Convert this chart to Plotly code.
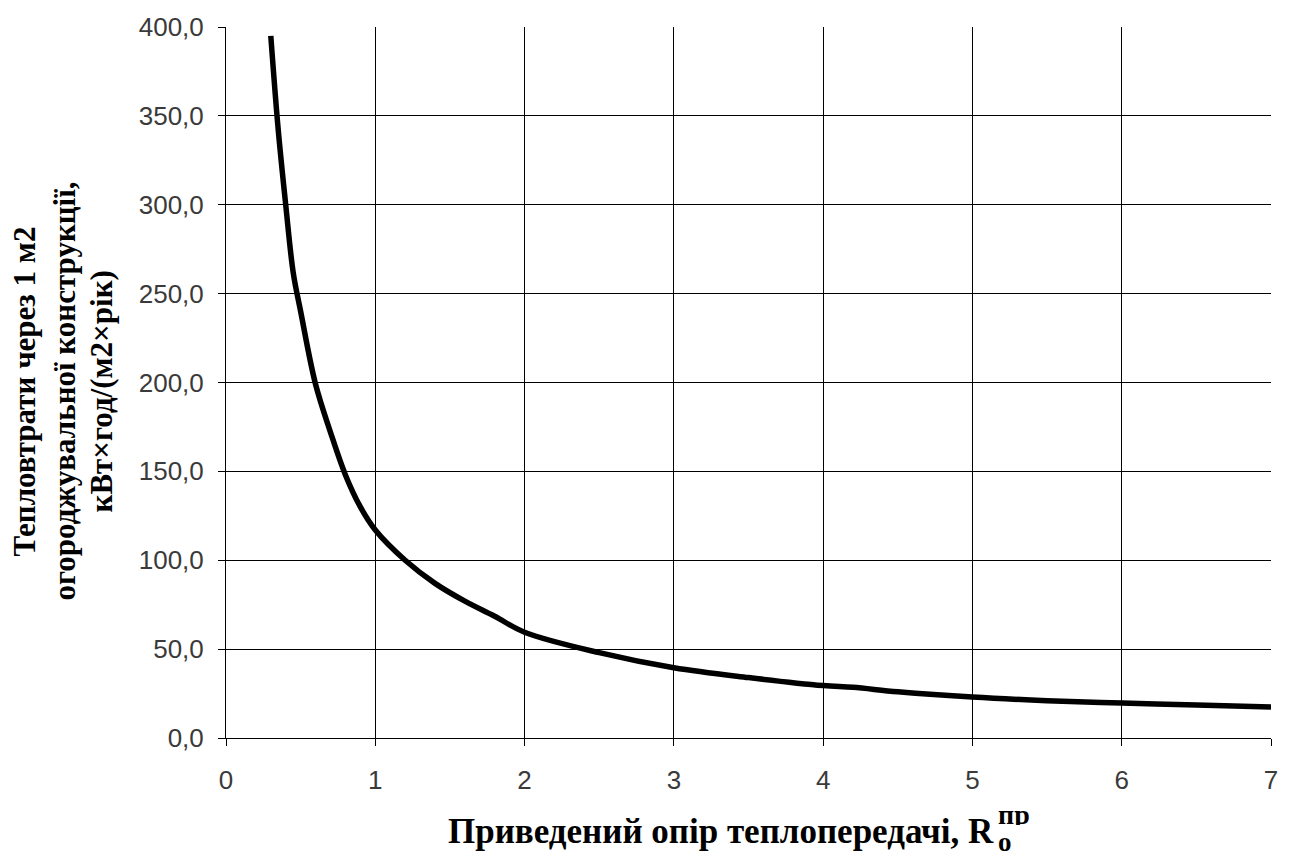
import plotly.graph_objects as go

# Reduced heat-transfer resistance R (m2·K/W)
resistance = [0.3, 0.35, 0.4, 0.45, 0.5, 0.6, 0.7, 0.8, 0.9, 1.0, 1.2, 1.4, 1.6, 1.8,
              2.0, 2.5, 3.0, 3.5, 4.0, 4.2, 4.5, 5.0, 5.5, 6.0, 6.5, 7.0]
# Annual heat loss through 1 m2 of envelope, kWh/(m2·year)
heat_loss = [395, 342, 300, 262, 240, 199, 172, 148, 130, 117, 100, 87, 77, 68.5,
             59.5, 48, 39.5, 34, 29.5, 28.5, 26, 23, 21, 19.7, 18.5, 17.4]

x_ticks = [0, 1, 2, 3, 4, 5, 6, 7]
y_ticks = [0, 50, 100, 150, 200, 250, 300, 350, 400]

y_title_lines = ["Тепловтрати через 1 м2",
                 "огороджувальної конструкції,",
                 "кВт×год/(м2×рік)"]
x_title = "Приведений опір теплопередачі, R"

W, H = 1292, 861
ML, MR, MT, MB = 226, 21, 24, 123
PW, PH = W - ML - MR, H - MT - MB

def px(xp):
    return (xp - ML) / PW

def py(yp):
    return (H - MB - yp) / PH

fig = go.Figure()
fig.add_trace(go.Scatter(
    x=resistance, y=heat_loss, mode="lines",
    line=dict(color="black", width=5.5, shape="spline", smoothing=1.0),
    hoverinfo="x+y", showlegend=False,
))

tick_font = dict(family="Liberation Sans, Arial, sans-serif", size=26, color="#3a3a3a")
serif = "Liberation Serif, Times New Roman, serif"

axis_common = dict(
    showgrid=True, gridcolor="black", gridwidth=1,
    showline=True, linecolor="black", linewidth=1,
    ticks="outside", ticklen=7, tickcolor="black", tickfont=tick_font,
    zeroline=False,
)
fig.update_xaxes(range=[0, 7], tickvals=x_ticks,
                 ticktext=[str(v) for v in x_ticks], ticklabelstandoff=12,
                 **axis_common)
fig.update_yaxes(range=[0, 400], tickvals=y_ticks, tickformat=".1f",
                 ticklabelstandoff=9, **axis_common)

annotations = []
# Three-line vertical title of the y axis
for line_text, xpos in zip(y_title_lines, [24, 64, 101]):
    annotations.append(dict(
        text=f"<b>{line_text}</b>", x=px(xpos), y=py(390),
        xref="paper", yref="paper", textangle=-90, showarrow=False,
        xanchor="center", yanchor="middle",
        font=dict(family=serif, size=31, color="black")))

# x-axis title with stacked sub/superscript on R
annotations += [
    dict(text=f"<b>{x_title}</b>",
         x=px(996), y=py(832), xref="paper", yref="paper", xanchor="right",
         yanchor="middle", showarrow=False,
         font=dict(family=serif, size=35, color="black")),
    dict(text="<b>o</b>", height=22,
         x=px(996), y=py(842), xref="paper", yref="paper", xanchor="left",
         yanchor="middle", showarrow=False,
         font=dict(family=serif, size=27, color="black")),
    dict(text="<b>пр</b>", height=22,
         x=px(996), y=py(814), xref="paper", yref="paper", xanchor="left",
         yanchor="middle", showarrow=False,
         font=dict(family=serif, size=28, color="black")),
]

fig.update_layout(
    width=W, height=H,
    margin=dict(l=ML, r=MR, t=MT, b=MB),
    paper_bgcolor="white", plot_bgcolor="white",
    separators=", ",
    annotations=annotations,
)

fig.write_html("out.html")
